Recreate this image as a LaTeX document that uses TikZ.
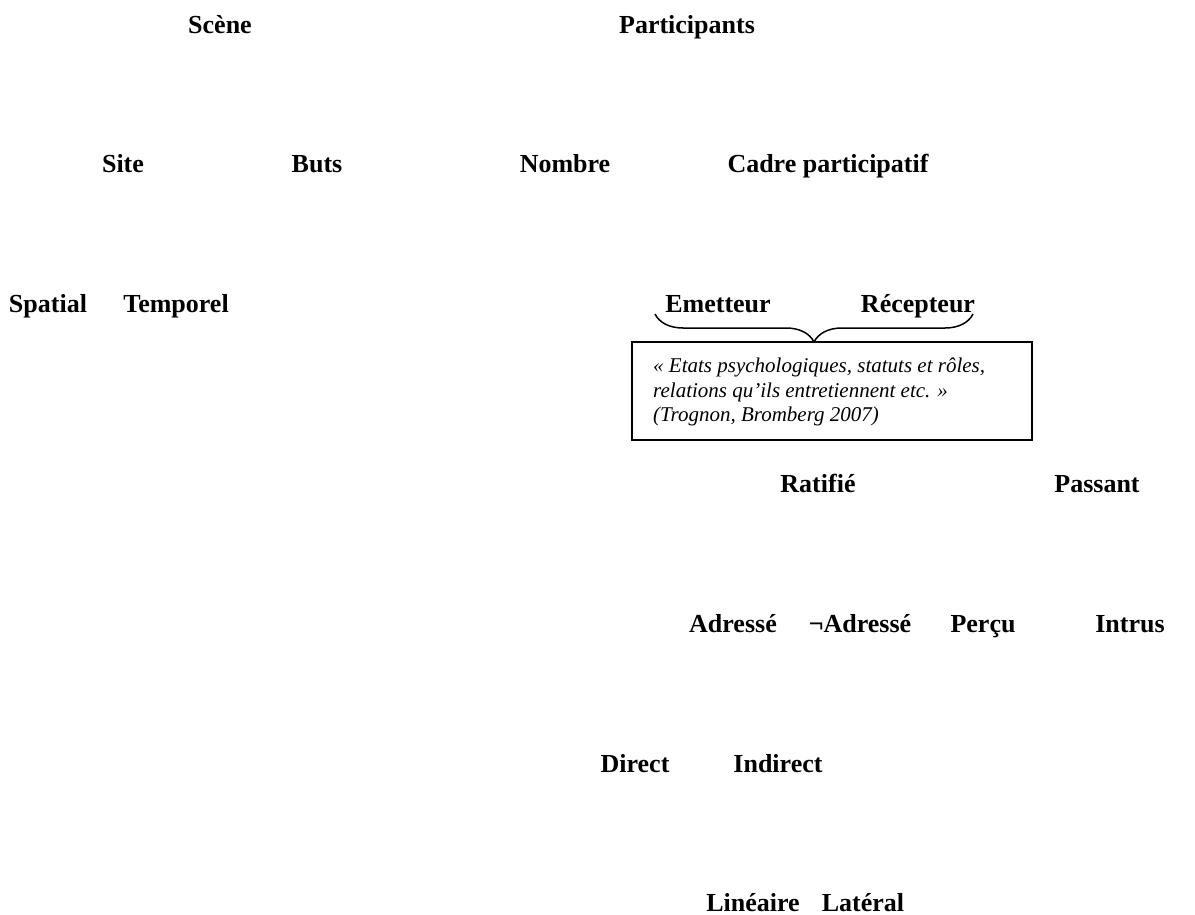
\documentclass[tikz,border=0pt]{standalone}
\usepackage{fontspec}
\setmainfont{Liberation Serif}
\usetikzlibrary{decorations.pathreplacing}
\begin{document}
\begin{tikzpicture}[x=1pt,y=1pt,
  lbl/.style={font=\fontsize{26}{30}\selectfont\bfseries, inner sep=0pt, anchor=base},
  quotebox/.style={draw, line width=1.8pt, minimum width=400pt, minimum height=98pt, inner sep=0pt},
  quotetxt/.style={font=\fontsize{21}{24.5}\selectfont\itshape, align=left, anchor=west, inner sep=0pt},
  bracestyle/.style={decorate, decoration={brace, mirror, amplitude=28pt}, line width=1.5pt}]
\useasboundingbox (0,0) rectangle (1195,-915);
\node[lbl] (scene) at (220,-34) {Scène};
\node[lbl] (part) at (687,-34) {Participants};
\node[lbl] (site) at (123,-173) {Site};
\node[lbl] (buts) at (317,-173) {Buts};
\node[lbl] (nombre) at (565,-173) {Nombre};
\node[lbl] (cadre) at (828,-173) {Cadre participatif};
\node[lbl] (spatial) at (48,-312) {Spatial};
\node[lbl] (temporel) at (176,-312) {Temporel};
\node[lbl] (emet) at (718,-312) {Emetteur};
\node[lbl] (recep) at (918,-312) {Récepteur};
\coordinate (bl) at (655,-314);
\coordinate (br) at (973,-314);
\draw[bracestyle] (bl) -- (br);
\node[quotebox] (box) at (832,-391) {};
\node[quotetxt] (quote) at (653,-392) {« Etats psychologiques, statuts et rôles,\\relations qu’ils entretiennent etc. »\\(Trognon, Bromberg 2007)};
\node[lbl] (ratifie) at (818,-492) {Ratifié};
\node[lbl] (passant) at (1097,-492) {Passant};
\node[lbl] (adresse) at (733,-632) {Adressé};
\node[lbl] (nonadresse) at (860,-632) {¬Adressé};
\node[lbl] (percu) at (983,-632) {Perçu};
\node[lbl] (intrus) at (1130,-632) {Intrus};
\node[lbl] (direct) at (635,-772) {Direct};
\node[lbl] (indirect) at (778,-772) {Indirect};
\node[lbl] (lineaire) at (753,-911) {Linéaire};
\node[lbl] (lateral) at (863,-911) {Latéral};
\end{tikzpicture}
\end{document}
